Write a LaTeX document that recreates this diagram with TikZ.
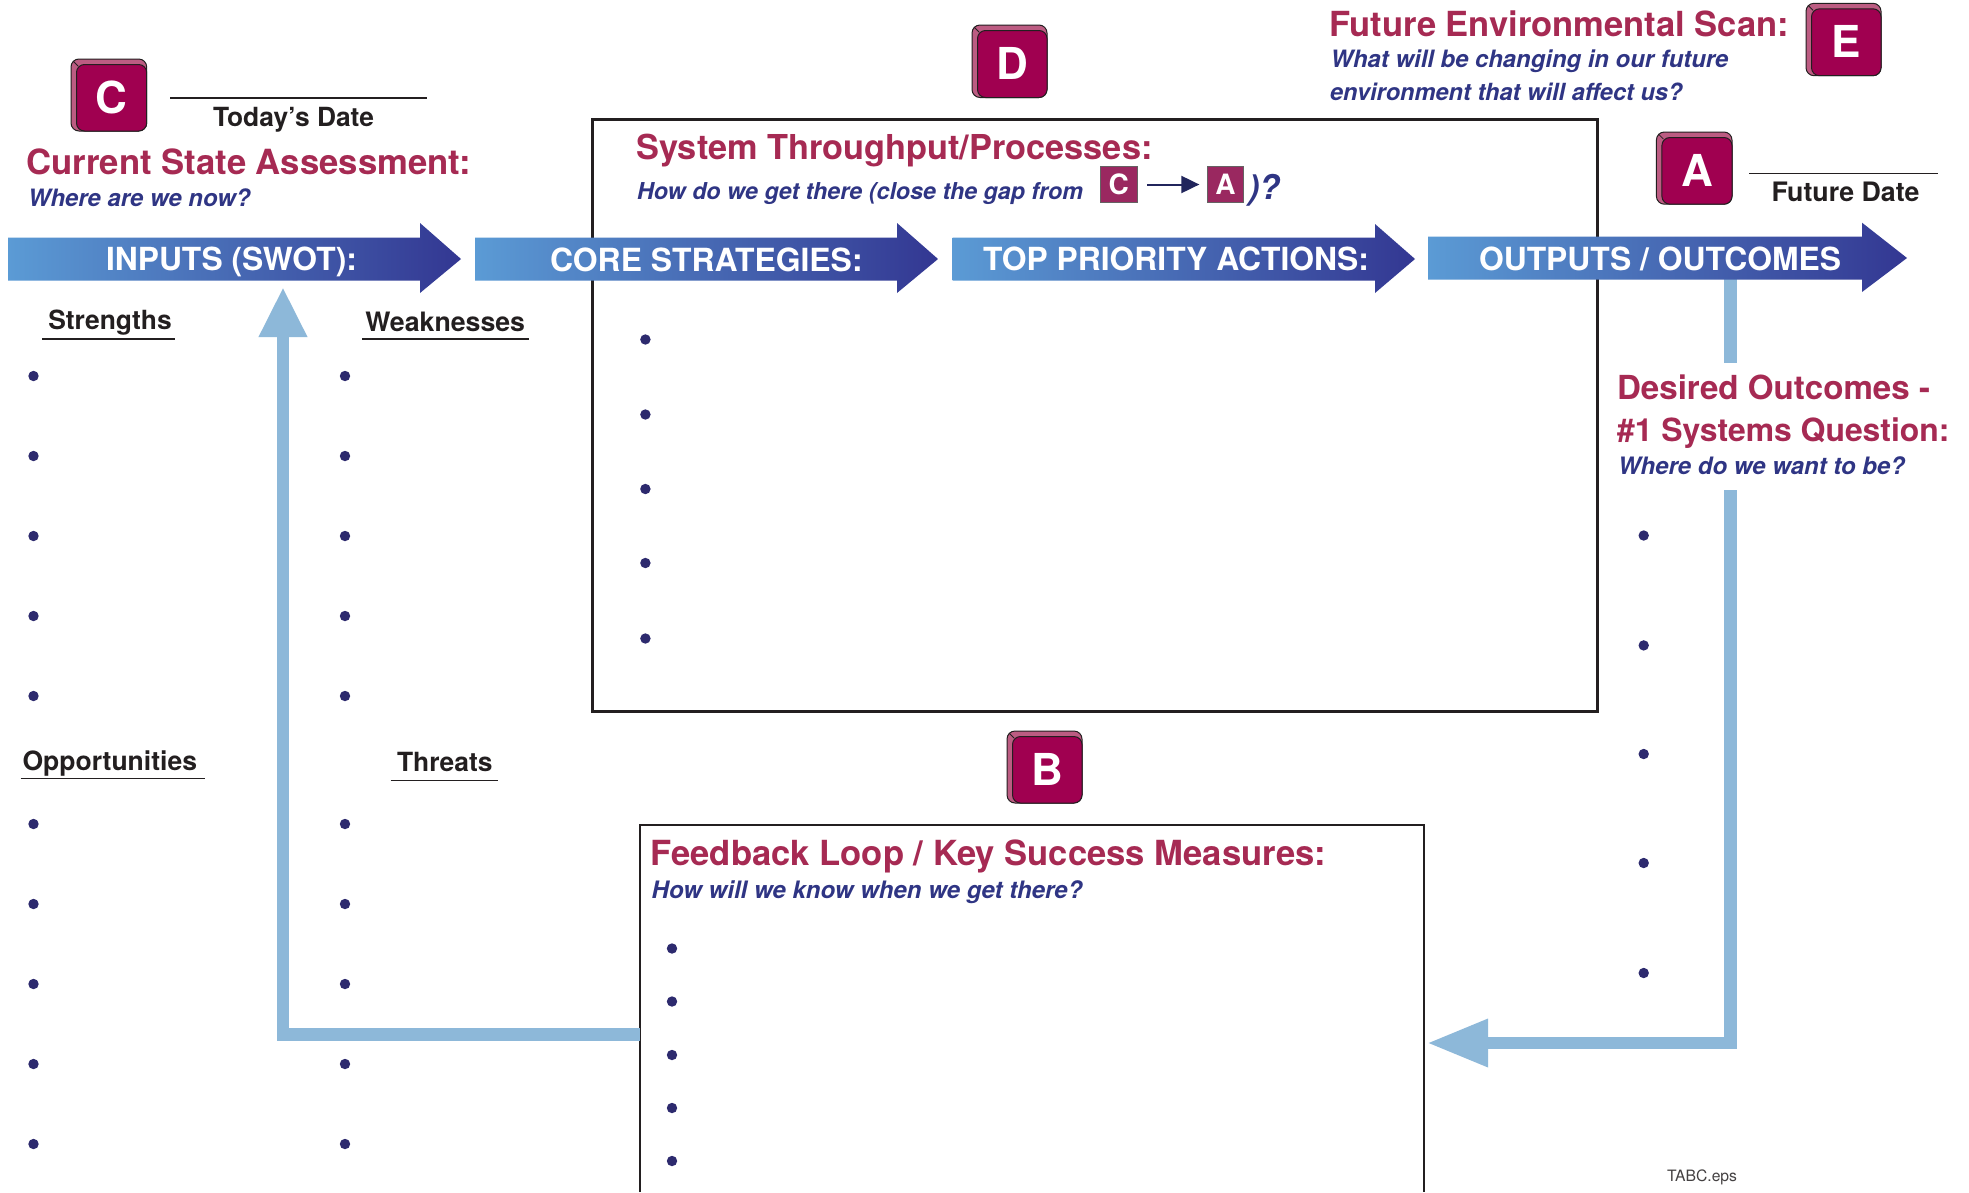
\documentclass[tikz,border=0pt]{standalone}
\usepackage{fontspec}
\usepackage{graphicx}
\setmainfont{TeX Gyre Heros}
\usetikzlibrary{arrows.meta,calc}
\definecolor{ttlcol}{HTML}{A62A53}
\definecolor{subcol}{HTML}{2F3584}
\definecolor{ink}{HTML}{231F20}
\definecolor{flow}{HTML}{8DB8D9}
\definecolor{gradA}{HTML}{5B9BD5}
\definecolor{gradB}{HTML}{333792}
\definecolor{face}{HTML}{A00050}
\definecolor{bevel}{HTML}{BC5C82}
\definecolor{minibox}{HTML}{9A2860}
\definecolor{dot}{HTML}{2D2A6E}
\newcommand{\fw}[2]{\resizebox{#1pt}{!}{#2}}
\newcommand{\txt}[6]{\node[#2] (#1) at (#3,#4) {\fw{#5}{#6}};}
\newcommand{\badge}[6]{%
  \filldraw[ink,fill=bevel,line width=1pt,rounded corners=8pt] (#2,#3) rectangle (#4,#5);
  \draw[ink,line width=0.8pt] (#2+2,#3+2) -- (#2+7,#3+7);
  \filldraw[ink,fill=face,line width=1pt,rounded corners=8pt] (#2+5.5,#3+5.5) rectangle (#4,#5);
  \node[badgeletter] (#1) at ({(#2+5.5+#4)/2},{(#3+5.5+#5)/2+15.5}) {#6};}
\tikzset{
  textbase/.style={anchor=base west,inner sep=0pt,outer sep=0pt},
  ttl/.style={textbase,text=ttlcol,font=\fontsize{32}{38}\selectfont\bfseries},
  sub/.style={textbase,text=subcol,font=\fontsize{23}{28}\selectfont\bfseries\itshape},
  lbl/.style={textbase,text=ink,font=\fontsize{27}{32}\selectfont\bfseries},
  hd/.style={textbase,text=white,font=\fontsize{32}{38}\selectfont\bfseries},
  badgeletter/.style={anchor=base,inner sep=0pt,outer sep=0pt,text=white,font=\fontsize{44}{50}\selectfont\bfseries},
  minib/.style={fill=minibox,draw=ink!70,line width=0.8pt,text=white,inner sep=0pt,minimum width=36.5pt,minimum height=36.5pt,font=\fontsize{28}{32}\selectfont\bfseries},
  rule/.style={ink,line width=1.5pt},
  frame/.style={ink,line width=3pt,line cap=butt},
  connector/.style={flow,line width=12.5pt},
  bullet/.style={fill=dot},
}
\begin{document}
\begin{tikzpicture}[x=1pt,y=-1pt]
\useasboundingbox (0,0) rectangle (1969,1192);
\fill[white] (0,0) rectangle (1969,1192);

% frames
\draw[frame] (592,119) rectangle (1597,711);
\coordinate (bsw) at (640,1192);
\coordinate (bnw) at (640,825);
\coordinate (bne) at (1424,825);
\coordinate (bse) at (1424,1192);
\draw[ink,line width=2.5pt] (bsw) -- (bnw) -- (bne) -- (bse);

% connectors
\coordinate (fbout) at (640,1034.5);
\coordinate (inputin) at (283,287);
\coordinate (oc1) at (1730.5,279);
\coordinate (oc2) at (1730.5,363);
\coordinate (oc3) at (1730.5,490);
\coordinate (bin) at (1427,1043);
\draw[connector,-{Triangle[length=50pt,width=45pt]}] (fbout) -| (inputin);
\draw[connector] (oc1) -- (oc2);
\draw[connector,-{Triangle[length=61pt,width=45pt]}] (oc3) |- (bin);

% flow arrows
\shade[left color=gradA,right color=gradB] (8,237.5) -- (420,237.5) -- (420,223) -- (461,259) -- (420,293) -- (420,280.5) -- (8,280.5) -- cycle;
\shade[left color=gradA,right color=gradB] (475,237.5) -- (897,237.5) -- (897,223) -- (938,259) -- (897,293) -- (897,280.5) -- (475,280.5) -- cycle;
\shade[left color=gradA,right color=gradB] (952.5,237.5) -- (1375,237.5) -- (1375,224) -- (1415,259) -- (1375,293) -- (1375,280.5) -- (952.5,280.5) -- cycle;
\shade[left color=gradA,right color=gradB] (1428,236.7) -- (1862,236.7) -- (1862,222.7) -- (1907,258) -- (1862,292) -- (1862,279.5) -- (1428,279.5) -- cycle;

\txt{hinputs}{hd}{106}{270}{251}{INPUTS (SWOT):}
\txt{hcore}{hd}{550}{271}{312.6}{CORE STRATEGIES:}
\txt{htop}{hd}{983}{270}{386}{TOP PRIORITY ACTIONS:}
\txt{houts}{hd}{1479}{270}{362}{OUTPUTS / OUTCOMES}

% badges
\badge{bC}{71}{59}{146.7}{131}{C}
\badge{bD}{972}{25}{1047}{97.5}{D}
\badge{bB}{1007}{731}{1082}{803}{B}
\badge{bE}{1806}{3.3}{1881}{75.7}{E}
\badge{bA}{1656.4}{132}{1732}{204.2}{A}

% dates
\draw[rule] (170,98) -- (427,98);
\txt{today}{lbl}{213}{126}{161}{Today’s Date}
\draw[rule] (1749,173.7) -- (1938,173.7);
\txt{future}{lbl}{1771.5}{201.5}{148}{Future Date}

% titles
\txt{tcur}{ttl}{26.4}{174}{444.5}{Current State Assessment:}
\txt{scur}{sub}{28}{206}{222.5}{Where are we now?}
\txt{tsys}{ttl}{636.5}{159}{516}{System Throughput/Processes:}
\txt{ssys}{sub}{637}{199}{446}{How do we get there (close the gap from}
\node[minib] (miniC) at (1118.8,184.5) {C};
\node[minib] (miniA) at (1225.5,184.5) {A};
\draw[subcol!70!black,line width=2pt,-{Triangle[length=18pt,width=17pt]}] ($(miniC.east)+(10,0)$) -- ($(miniA.west)+(-7.5,0)$);
\txt{ssys2}{sub}{1248}{199}{32}{)?}
\txt{tfut}{ttl}{1329.5}{36}{459.5}{Future Environmental Scan:}
\txt{sfut1}{sub}{1330.5}{67.7}{398}{What will be changing in our future}
\txt{sfut2}{sub}{1330}{100}{352.5}{environment that will affect us?}
\txt{tdes1}{ttl}{1617}{399}{313}{Desired Outcomes -}
\txt{tdes2}{ttl}{1617}{441}{332.5}{\#1 Systems Question:}
\txt{sdes}{sub}{1618}{474}{287}{Where do we want to be?}
\txt{tfb}{ttl}{650.5}{865}{675.5}{Feedback Loop / Key Success Measures:}
\txt{sfb}{sub}{651.7}{898}{430.7}{How will we know when we get there?}

% SWOT
\txt{lstr}{lbl}{48.3}{329}{123.4}{Strengths}
\draw[rule] (42,339) -- (175,339);
\txt{lwea}{lbl}{365.4}{331}{159.6}{Weaknesses}
\draw[rule] (362,339) -- (529,339);
\txt{lopp}{lbl}{22.6}{770}{174.4}{Opportunities}
\draw[rule] (20.5,778.5) -- (205,778.5);
\txt{lthr}{lbl}{397}{771}{95.5}{Threats}
\draw[rule] (390.5,780.5) -- (498,780.5);

% bullets
\foreach \bx in {33.5,345} {
  \foreach \by in {376,456,536,616,696,824,904,984,1064,1144} {
    \fill[bullet] (\bx,\by) circle[radius=5.2pt];
  }
}
\foreach \by in {339.5,414.5,489,563,638.5} { \fill[bullet] (645.4,\by) circle[radius=5.2pt]; }
\foreach \by in {948.5,1001.5,1055,1108,1161} { \fill[bullet] (672,\by) circle[radius=5.2pt]; }
\foreach \by in {535.5,645.4,754,863,973} { \fill[bullet] (1643.7,\by) circle[radius=5.2pt]; }

\node[textbase,text=ink!85,font=\fontsize{15}{18}\selectfont] (eps) at (1667,1181.7) {\fw{70}{TABC.eps}};
\end{tikzpicture}
\end{document}
